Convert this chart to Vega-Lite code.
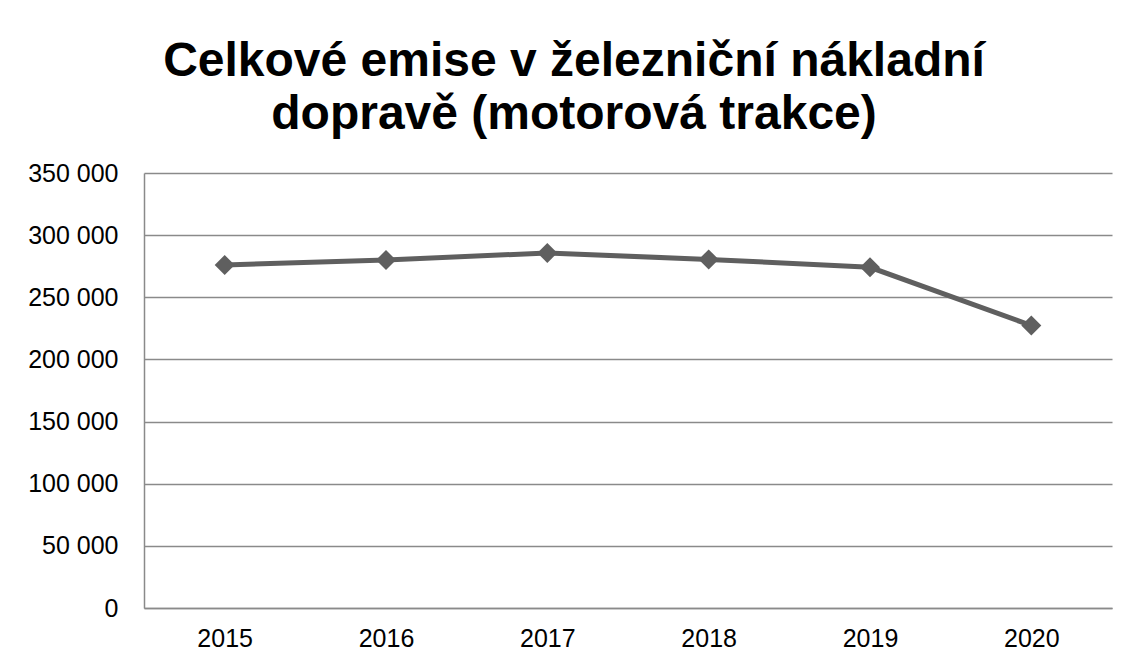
{
  "$schema": "https://vega.github.io/schema/vega-lite/v6.json",
  "width": 968,
  "height": 435,
  "autosize": {"type": "none"},
  "padding": {"left": 144, "top": 173, "right": 16, "bottom": 56},
  "background": "white",
  "title": {
    "text": ["Celkové emise v železniční nákladní", "dopravě (motorová trakce)"],
    "font": "Liberation Sans",
    "fontSize": 48,
    "fontWeight": "bold",
    "color": "black",
    "lineHeight": 53,
    "anchor": "middle",
    "frame": "group",
    "dx": -54,
    "offset": 22
  },
  "data": {
    "values": [
      {"rok": "2015", "emise": 276000},
      {"rok": "2016", "emise": 280000},
      {"rok": "2017", "emise": 285700},
      {"rok": "2018", "emise": 280500},
      {"rok": "2019", "emise": 274100},
      {"rok": "2020", "emise": 227300}
    ]
  },
  "config": {
    "view": {"stroke": null},
    "axis": {
      "labelFont": "Liberation Sans",
      "labelFontSize": 25,
      "labelColor": "black",
      "domainColor": "#8a8a8a",
      "domainWidth": 1.5,
      "gridColor": "#8a8a8a",
      "gridWidth": 1.5,
      "gridOpacity": 1,
      "ticks": false,
      "tickSize": 0,
      "title": null
    }
  },
  "encoding": {
    "x": {
      "field": "rok",
      "type": "ordinal",
      "scale": {"type": "point", "padding": 0.5},
      "axis": {"labelAngle": 0, "labelPadding": 18, "grid": false}
    },
    "y": {
      "field": "emise",
      "type": "quantitative",
      "scale": {"domain": [0, 350000], "nice": false},
      "axis": {
        "values": [0, 50000, 100000, 150000, 200000, 250000, 300000, 350000],
        "labelExpr": "replace(format(datum.value, ','), /,/g, ' ')",
        "labelPadding": 26,
        "grid": true
      }
    }
  },
  "layer": [
    {
      "mark": {"type": "line", "color": "#5f5f5f", "strokeWidth": 5}
    },
    {
      "mark": {"type": "point", "shape": "diamond", "filled": true, "color": "#5f5f5f", "opacity": 1, "size": 400}
    }
  ]
}
